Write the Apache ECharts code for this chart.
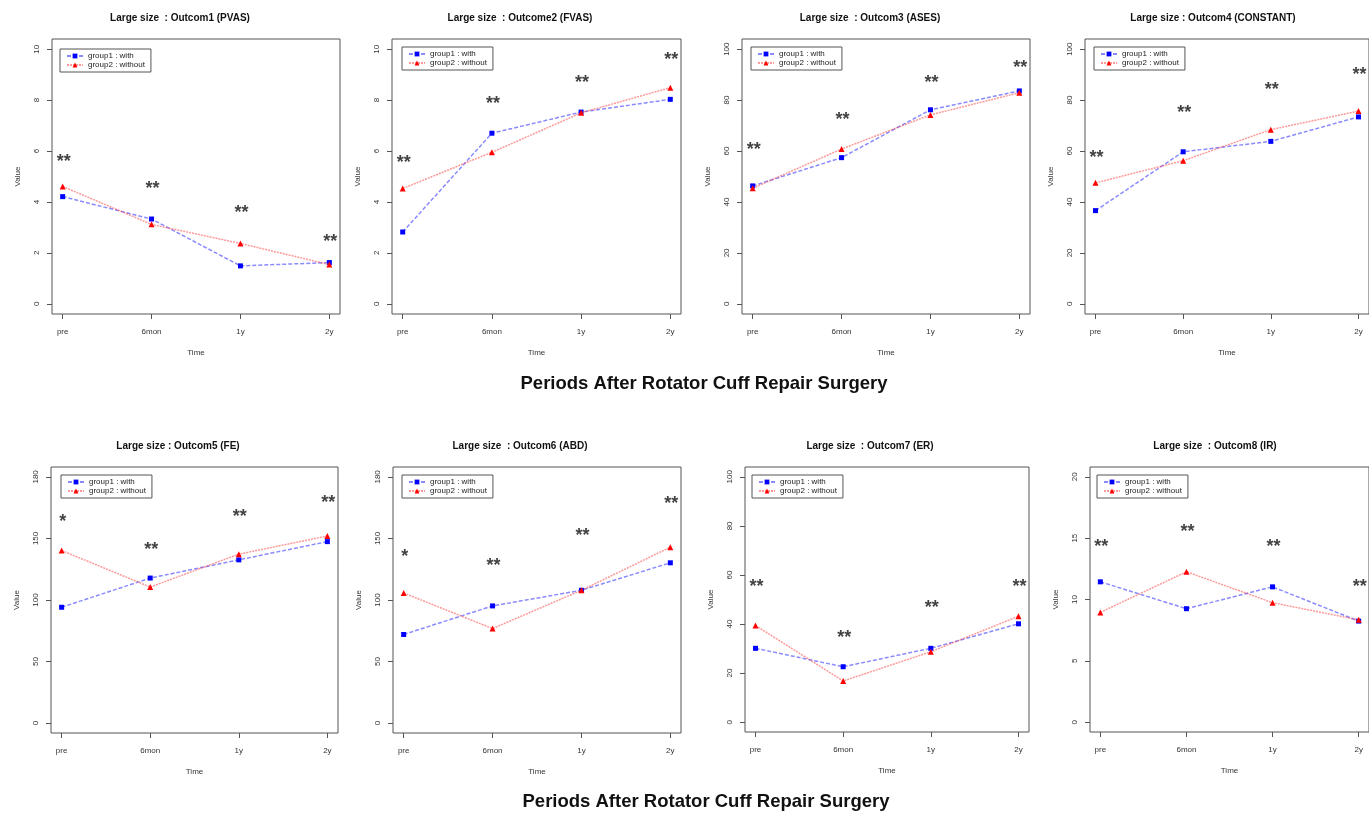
<!DOCTYPE html>
<html>
<head>
<meta charset="utf-8">
<script src="https://cdn.jsdelivr.net/npm/echarts@6/dist/echarts.min.js"></script>
<style>
html,body{margin:0;padding:0;background:#fff;}
#chart{width:1369px;height:814px;}
</style>
</head>
<body>
<div id="chart"></div>
<script>
// ---------- data ----------
var categories = ['pre', '6mon', '1y', '2y'];
var legendNames = ['group1 : with', 'group2 : without'];
var footerText = 'Periods After Rotator Cuff Repair Surgery';

var titles = [
  'Large size  : Outcom1 (PVAS)',
  'Large size  : Outcome2 (FVAS)',
  'Large size  : Outcom3 (ASES)',
  'Large size : Outcom4 (CONSTANT)',
  'Large size : Outcom5 (FE)',
  'Large size  : Outcom6 (ABD)',
  'Large size  : Outcom7 (ER)',
  'Large size  : Outcom8 (IR)'
];

var g1_PVAS = [4.21, 3.33, 1.49, 1.62];
var g2_PVAS = [4.61, 3.12, 2.37, 1.54];
var sig_PVAS_y = [5.72, 4.67, 3.71, 2.59];
var sig_PVAS = ['**', '**', '**', '**'];

var g1_FVAS = [2.82, 6.70, 7.53, 8.03];
var g2_FVAS = [4.53, 5.95, 7.50, 8.49];
var sig_FVAS_y = [5.67, 8.00, 8.84, 9.74];
var sig_FVAS = ['**', '**', '**', '**'];

var g1_ASES = [46.3, 57.4, 76.2, 83.6];
var g2_ASES = [45.4, 60.8, 74.2, 82.9];
var sig_ASES_y = [62.0, 73.6, 88.4, 94.3];
var sig_ASES = ['**', '**', '**', '**'];

var g1_CONST = [36.6, 59.7, 63.8, 73.4];
var g2_CONST = [47.5, 56.2, 68.4, 75.7];
var sig_CONST_y = [58.9, 76.4, 85.5, 91.4];
var sig_CONST = ['**', '**', '**', '**'];

var g1_FE = [94.1, 117.8, 132.6, 147.4];
var g2_FE = [140.2, 110.5, 137.2, 152.0];
var sig_FE_y = [166.6, 143.9, 170.6, 181.9];
var sig_FE = ['*', '**', '**', '**'];

var g1_ABD = [72.0, 95.2, 107.9, 130.2];
var g2_ABD = [105.7, 76.8, 107.9, 142.9];
var sig_ABD_y = [138.3, 130.7, 155.0, 181.4];
var sig_ABD = ['*', '**', '**', '**'];

var g1_ER = [30.1, 22.6, 30.1, 40.1];
var g2_ER = [39.4, 16.8, 28.7, 43.2];
var sig_ER_y = [56.8, 36.0, 48.0, 56.8];
var sig_ER = ['**', '**', '**', '**'];

var g1_IR = [11.44, 9.25, 11.03, 8.24];
var g2_IR = [8.95, 12.26, 9.74, 8.34];
var sig_IR_y = [14.58, 15.81, 14.58, 11.35];
var sig_IR = ['**', '**', '**', '**'];

// y tick values and their labels
var yTicks_10 = [0, 2, 4, 6, 8, 10];
var yTickLabels_10 = ['0', '2', '4', '6', '8', '10'];
var yTicks_100 = [0, 20, 40, 60, 80, 100];
var yTickLabels_100 = ['0', '20', '40', '60', '80', '100'];
var yTicks_200 = [0, 50, 100, 150, 200];
var yTickLabels_200 = ['0', '50', '100', '150', '180'];
var yTicks_20 = [0, 5, 10, 15, 20];
var yTickLabels_20 = ['0', '5', '10', '15', '20'];

var panelData = [
  {g1: g1_PVAS, g2: g2_PVAS, sy: sig_PVAS_y, s: sig_PVAS, ticks: yTicks_10, labels: yTickLabels_10},
  {g1: g1_FVAS, g2: g2_FVAS, sy: sig_FVAS_y, s: sig_FVAS, ticks: yTicks_10, labels: yTickLabels_10},
  {g1: g1_ASES, g2: g2_ASES, sy: sig_ASES_y, s: sig_ASES, ticks: yTicks_100, labels: yTickLabels_100},
  {g1: g1_CONST, g2: g2_CONST, sy: sig_CONST_y, s: sig_CONST, ticks: yTicks_100, labels: yTickLabels_100},
  {g1: g1_FE, g2: g2_FE, sy: sig_FE_y, s: sig_FE, ticks: yTicks_200, labels: yTickLabels_200},
  {g1: g1_ABD, g2: g2_ABD, sy: sig_ABD_y, s: sig_ABD, ticks: yTicks_200, labels: yTickLabels_200},
  {g1: g1_ER, g2: g2_ER, sy: sig_ER_y, s: sig_ER, ticks: yTicks_100, labels: yTickLabels_100},
  {g1: g1_IR, g2: g2_IR, sy: sig_IR_y, s: sig_IR, ticks: yTicks_20, labels: yTickLabels_20}
];

// ---------- layout ----------
var layout = [
  {left: 52,   top: 39,  width: 288, height: 275, tx: 180,  ty: 18,  lx: 60,   ly: 49},
  {left: 392,  top: 39,  width: 289, height: 275, tx: 520,  ty: 18,  lx: 402,  ly: 47},
  {left: 742,  top: 39,  width: 288, height: 275, tx: 870,  ty: 18,  lx: 751,  ly: 47},
  {left: 1085, top: 39,  width: 289, height: 275, tx: 1213, ty: 18,  lx: 1094, ly: 47},
  {left: 51,   top: 467, width: 287, height: 266, tx: 178,  ty: 446, lx: 61,   ly: 475},
  {left: 393,  top: 467, width: 288, height: 266, tx: 520,  ty: 446, lx: 402,  ly: 475},
  {left: 745,  top: 467, width: 284, height: 265, tx: 870,  ty: 446, lx: 752,  ly: 475},
  {left: 1090, top: 467, width: 284, height: 265, tx: 1215, ty: 446, lx: 1097, ly: 475}
];

var FONT = '"Liberation Sans", Arial, sans-serif';
var BLUE = '#0000ff', RED = '#ff0000';

var grids = [], xAxes = [], yAxes = [], series = [], legends = [], graphics = [];

panelData.forEach(function (p, i) {
  var L = layout[i];
  var ymin = p.ticks[0], ymax = p.ticks[p.ticks.length - 1];
  var pad = (ymax - ymin) * 0.04;
  grids.push({left: L.left, top: L.top, width: L.width, height: L.height,
    show: true, borderColor: '#555', borderWidth: 1, backgroundColor: 'transparent'});
  xAxes.push({
    type: 'value', gridIndex: i, min: 0.88, max: 4.12, position: 'bottom',
    axisLine: {show: false, onZero: false}, splitLine: {show: false},
    axisTick: {show: true, customValues: [1, 2, 3, 4], length: 5, lineStyle: {color: '#555'}},
    axisLabel: {customValues: [1, 2, 3, 4], fontSize: 8, color: '#333', fontFamily: FONT, margin: 14,
      formatter: function (v) { return categories[Math.round(v) - 1]; }},
    name: 'Time', nameLocation: 'middle', nameGap: 35,
    nameTextStyle: {fontSize: 8, color: '#333', fontFamily: FONT}
  });
  yAxes.push({
    type: 'value', gridIndex: i, min: ymin - pad, max: ymax + pad, position: 'left',
    axisLine: {show: false, onZero: false}, splitLine: {show: false},
    axisTick: {show: true, customValues: p.ticks, length: 5, lineStyle: {color: '#555'}},
    axisLabel: {customValues: p.ticks, rotate: 90, fontSize: 8, color: '#333', fontFamily: FONT, margin: 11,
      formatter: function (v) { var k = p.ticks.indexOf(v); return k >= 0 ? p.labels[k] : ''; }},
    name: 'Value', nameLocation: 'middle', nameGap: 30,
    nameTextStyle: {fontSize: 8, color: '#333', fontFamily: FONT}
  });
  series.push({
    name: legendNames[0], type: 'line', xAxisIndex: i, yAxisIndex: i,
    data: p.g1.map(function (v, k) { return [k + 1, v]; }),
    symbol: 'rect', symbolSize: 5, showSymbol: true,
    itemStyle: {color: BLUE},
    lineStyle: {color: 'rgba(60,60,255,0.6)', width: 1.5, type: [4, 2]},
    emphasis: {disabled: true}, animation: false, z: 3
  });
  series.push({
    name: legendNames[1], type: 'line', xAxisIndex: i, yAxisIndex: i,
    data: p.g2.map(function (v, k) { return [k + 1, v]; }),
    symbol: 'triangle', symbolSize: 6, showSymbol: true,
    itemStyle: {color: RED},
    lineStyle: {color: 'rgba(255,70,70,0.55)', width: 1.5, type: [2, 1]},
    emphasis: {disabled: true}, animation: false, z: 4
  });
  series.push({
    name: 'sig' + i, type: 'scatter', xAxisIndex: i, yAxisIndex: i,
    data: p.sy.map(function (v, k) { return [k + 1, v]; }),
    symbol: 'circle', symbolSize: 1, itemStyle: {color: 'rgba(0,0,0,0)'},
    label: {show: true, position: 'inside', offset: [1, 4], fontSize: 18, fontWeight: 'bold', color: '#111', fontFamily: FONT,
      formatter: function (d) { return p.s[d.dataIndex]; }},
    emphasis: {disabled: true}, animation: false, z: 5
  });
  legends.push({
    data: legendNames, left: L.lx, top: L.ly, orient: 'vertical',
    padding: [3, 6, 3, 6], itemGap: 1, itemWidth: 16, itemHeight: 6,
    borderColor: '#555', borderWidth: 1, backgroundColor: '#fff',
    textStyle: {fontSize: 8, color: '#222', fontFamily: FONT},
    selectedMode: false
  });
  graphics.push({
    type: 'text', x: L.tx, y: L.ty,
    style: {text: titles[i], font: 'bold 10px ' + FONT, fill: '#111', textAlign: 'center', textVerticalAlign: 'middle'}
  });
});

graphics.push({type: 'text', x: 704, y: 384,
  style: {text: footerText, font: 'bold 18.5px ' + FONT, fill: '#111', textAlign: 'center', textVerticalAlign: 'middle'}});
graphics.push({type: 'text', x: 706, y: 802,
  style: {text: footerText, font: 'bold 18.5px ' + FONT, fill: '#111', textAlign: 'center', textVerticalAlign: 'middle'}});

var chart = echarts.init(document.getElementById('chart'), null, {renderer: 'canvas'});
chart.setOption({
  backgroundColor: '#fff',
  animation: false,
  grid: grids,
  xAxis: xAxes,
  yAxis: yAxes,
  legend: legends,
  series: series,
  graphic: graphics
});
</script>
</body>
</html>
